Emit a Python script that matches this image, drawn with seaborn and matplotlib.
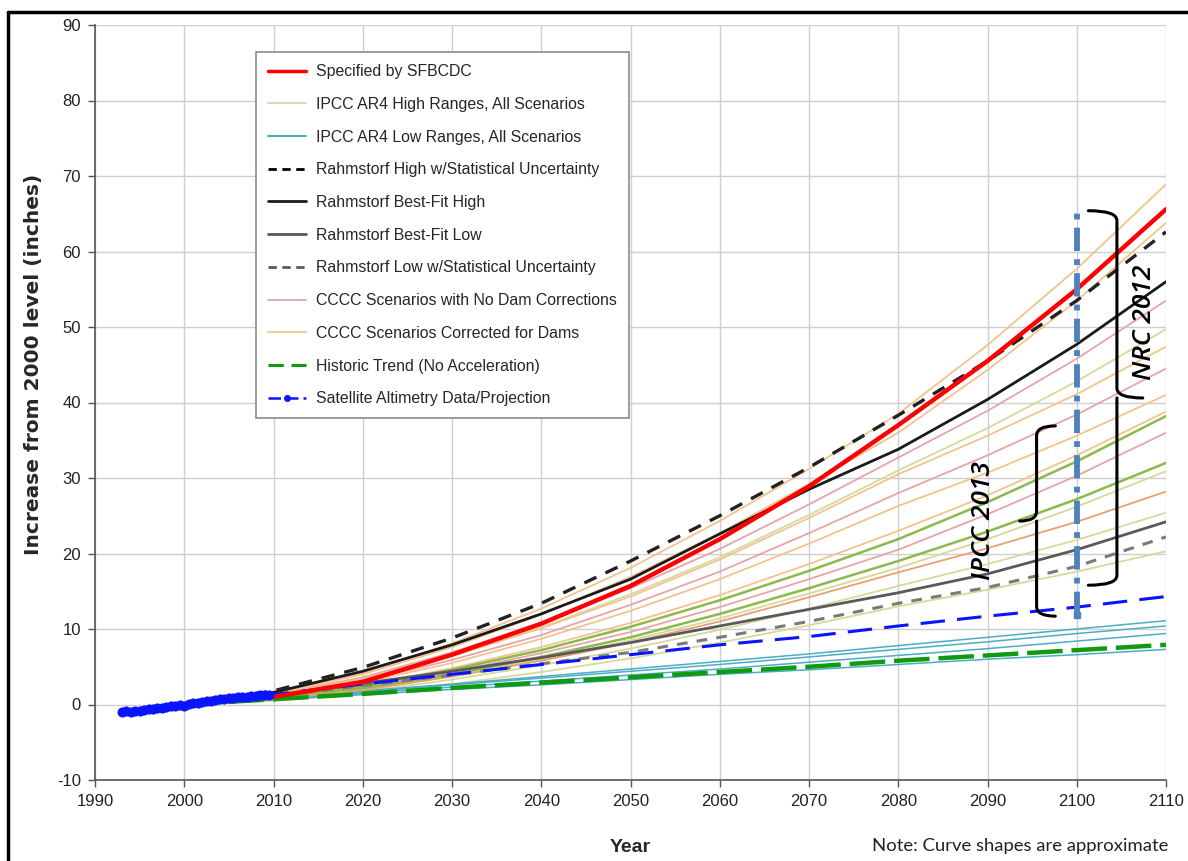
import numpy as np
import matplotlib
matplotlib.use("Agg")
import matplotlib.pyplot as plt
from matplotlib.lines import Line2D
from matplotlib.path import Path
from matplotlib.patches import PathPatch
import seaborn as sns

# ---------------- data ----------------
years = [2000, 2010, 2020, 2030, 2040, 2050, 2060, 2070, 2080, 2090, 2100, 2110]

sfbcdc          = [0, 1.0, 3.0, 6.6, 10.7, 15.7, 21.9, 28.9, 37.0, 45.5, 55.0, 65.6]
rahm_high_unc   = [0, 1.8, 4.9, 8.8, 13.4, 19.0, 25.0, 31.4, 38.3, 45.5, 53.5, 62.6]
rahm_best_high  = [0, 1.6, 4.4, 7.9, 12.0, 16.6, 22.6, 28.5, 33.8, 40.4, 47.7, 56.0]
rahm_best_low   = [0, 1.2, 2.8, 4.4, 6.2, 8.2, 10.4, 12.6, 14.8, 17.3, 20.5, 24.2]
rahm_low_unc    = [0, 1.1, 2.5, 3.9, 5.4, 6.9, 8.9, 11.0, 13.4, 15.5, 18.3, 22.2]
historic_trend  = [0, 0.7, 1.4, 2.2, 2.9, 3.6, 4.3, 5.0, 5.8, 6.5, 7.2, 7.9]

sat_proj_years  = [2009, 2020, 2030, 2040, 2050, 2060, 2070, 2080, 2090, 2100, 2110]
sat_projection  = [1.2, 2.7, 4.0, 5.3, 6.6, 7.9, 9.0, 10.4, 11.7, 12.9, 14.3]

sat_years = [1993.0, 1993.5, 1994.0, 1994.5, 1995.0, 1995.5, 1996.0, 1996.5, 1997.0,
             1997.5, 1998.0, 1998.5, 1999.0, 1999.5, 2000.0, 2000.5, 2001.0, 2001.5,
             2002.0, 2002.5, 2003.0, 2003.5, 2004.0, 2004.5, 2005.0, 2005.5, 2006.0,
             2006.5, 2007.0, 2007.5, 2008.0, 2008.5, 2009.0, 2009.5]
sat_data = [-1.0, -0.9, -0.95, -0.8, -0.85, -0.7, -0.6, -0.55, -0.45, -0.5, -0.3, -0.2,
            -0.15, -0.1, -0.15, 0.05, 0.15, 0.25, 0.3, 0.45, 0.5, 0.55, 0.7, 0.75, 0.8,
            0.9, 0.95, 1.0, 1.05, 1.15, 1.1, 1.2, 1.25, 1.3]

ipcc_low_1 = [0, 0.9, 1.8, 2.7, 3.7, 4.7, 5.7, 6.7, 7.8, 8.9, 10.0, 11.1]
ipcc_low_2 = [0, 0.8, 1.7, 2.6, 3.5, 4.4, 5.3, 6.3, 7.3, 8.3, 9.4, 10.4]
ipcc_low_3 = [0, 0.7, 1.5, 2.3, 3.1, 3.9, 4.7, 5.6, 6.5, 7.4, 8.4, 9.4]
ipcc_low_4 = [0, 0.65, 1.3, 2.0, 2.6, 3.3, 4.0, 4.6, 5.3, 6.0, 6.6, 7.3]

ipcc_high_1 = [0, 1.2, 3.4, 6.5, 10.2, 14.6, 19.5, 25.1, 31.0, 36.6, 42.8, 49.7]
ipcc_high_2 = [0, 0.7, 2.0, 3.8, 6.0, 8.5, 11.4, 14.7, 18.1, 21.9, 26.2, 30.9]
ipcc_high_3 = [0, 0.6, 1.7, 3.3, 5.2, 7.4, 9.9, 12.7, 15.7, 18.6, 21.8, 25.4]
ipcc_high_4 = [0, 0.5, 1.4, 2.7, 4.3, 6.1, 8.2, 10.5, 13.0, 15.2, 17.6, 20.3]

cccc_nodam_1 = [0, 1.3, 3.6, 6.9, 10.8, 15.4, 20.6, 26.5, 32.7, 38.9, 45.8, 53.5]
cccc_nodam_2 = [0, 1.1, 3.1, 5.9, 9.2, 13.2, 17.6, 22.7, 28.0, 33.0, 38.4, 44.5]
cccc_nodam_3 = [0, 0.8, 2.3, 4.3, 6.8, 9.6, 12.9, 16.6, 20.5, 25.2, 30.3, 36.0]

cccc_dams_1 = [0, 1.5, 4.2, 8.1, 12.7, 18.1, 24.3, 31.2, 38.5, 47.6, 57.7, 68.9]
cccc_dams_2 = [0, 1.4, 4.0, 7.6, 11.9, 16.9, 22.7, 29.2, 36.0, 44.3, 53.5, 63.8]
cccc_dams_3 = [0, 1.2, 3.4, 6.4, 10.1, 14.3, 19.2, 24.7, 30.5, 35.6, 41.1, 47.4]
cccc_dams_4 = [0, 1.1, 2.9, 5.5, 8.7, 12.4, 16.6, 21.3, 26.3, 30.7, 35.6, 41.0]
cccc_dams_5 = [0, 0.9, 2.5, 4.8, 7.6, 10.8, 14.5, 18.6, 23.0, 27.7, 33.0, 38.8]

green_1 = [0, 0.9, 2.4, 4.6, 7.2, 10.3, 13.8, 17.7, 21.9, 26.8, 32.2, 38.2]
green_2 = [0, 0.8, 2.1, 4.0, 6.3, 8.9, 12.0, 15.4, 19.0, 22.9, 27.2, 32.0]
salmon_1 = [0, 0.7, 1.9, 3.7, 5.8, 8.2, 11.0, 14.2, 17.5, 20.7, 24.2, 28.2]

nrc2012_range = (15.8, 65.4)
ipcc2013_range = (11.7, 36.9)
marker_year = 2100
marker_range = (11.9, 65.6)

legend_labels = ["Specified by SFBCDC", "IPCC AR4 High Ranges, All Scenarios",
                 "IPCC AR4 Low Ranges, All Scenarios",
                 "Rahmstorf High w/Statistical Uncertainty", "Rahmstorf Best-Fit High",
                 "Rahmstorf Best-Fit Low", "Rahmstorf Low w/Statistical Uncertainty",
                 "CCCC Scenarios with No Dam Corrections", "CCCC Scenarios Corrected for Dams",
                 "Historic Trend (No Acceleration)", "Satellite Altimetry Data/Projection"]

# ---------------- style ----------------
sns.set_theme(style="whitegrid")
plt.rcParams['font.family'] = ['Liberation Sans', 'DejaVu Sans']
plt.rcParams['axes.unicode_minus'] = False

C_RED = "#FF0000"
C_IPCC_HIGH = "#D5DA9A"
C_IPCC_LOW = "#4BACC6"
C_PINK = "#E6A5A8"
C_TAN = "#F2C48C"
C_GREEN = "#8DB84A"
C_SALMON = "#E8A070"
C_HIST = "#109A10"
C_SAT = "#0A14FF"

fig = plt.figure(figsize=(11.88, 8.61), dpi=100)
ax = fig.add_axes([95 / 1188, 1 - 780 / 861, (1166 - 95) / 1188, (780 - 25) / 861])


def line(yv, color, lw, ls="-", z=2, x=years):
    sns.lineplot(x=x, y=yv, ax=ax, color=color, linewidth=lw, linestyle=ls,
                 zorder=z, legend=False)


# fan
for s in [ipcc_high_1, ipcc_high_2, ipcc_high_3, ipcc_high_4]:
    line(s, C_IPCC_HIGH, 1.3, z=2)
for s in [cccc_nodam_1, cccc_nodam_2, cccc_nodam_3]:
    line(s, C_PINK, 1.3, z=2)
for s in [cccc_dams_1, cccc_dams_2, cccc_dams_3, cccc_dams_4, cccc_dams_5]:
    line(s, C_TAN, 1.3, z=2)
for s in [green_1, green_2]:
    line(s, C_GREEN, 1.8, z=2.1)
line(salmon_1, C_SALMON, 1.3, z=2.1)
for s in [ipcc_low_1, ipcc_low_2, ipcc_low_3, ipcc_low_4]:
    line(s, C_IPCC_LOW, 1.1, z=2)

line(historic_trend, C_HIST, 3.2, ls=(0, (8, 2)), z=3)
line(rahm_low_unc, "#7a7a7a", 2.2, ls=(0, (3.5, 3)), z=3)
line(rahm_best_low, "#595959", 2.0, z=3)
line(rahm_best_high, "#1a1a1a", 2.0, z=3.2)
line(rahm_high_unc, "#222222", 2.4, ls=(0, (4, 3)), z=3.3)
line(sat_projection, C_SAT, 2.2, ls=(0, (8, 4)), z=3.4, x=sat_proj_years)
line(sfbcdc, C_RED, 3.2, z=3.5)

sns.scatterplot(x=sat_years, y=sat_data, ax=ax, color=C_SAT, s=45,
                edgecolor=C_SAT, linewidth=0.5, zorder=4, legend=False)

# vertical marker at 2100
ax.plot([marker_year, marker_year], list(marker_range), color="#4F81BD", lw=4.2,
        linestyle=(0, (4, 1.4, 1, 1.4)), zorder=5, solid_capstyle="butt")
ax.plot([marker_year], [marker_range[0]], marker="s", ms=4, color="#4F81BD", zorder=5)


def brace(xv, xend, xtip, y0, y1, ry):
    ym = (y0 + y1) / 2
    verts = [(xend, y1), (xv, y1), (xv, y1 - ry),
             (xv, ym + ry), (xv, ym), (xtip, ym),
             (xv, ym), (xv, ym - ry),
             (xv, y0 + ry), (xv, y0), (xend, y0)]
    codes = [Path.MOVETO, Path.CURVE3, Path.CURVE3,
             Path.LINETO, Path.CURVE3, Path.CURVE3,
             Path.MOVETO, Path.CURVE3,
             Path.LINETO, Path.CURVE3, Path.CURVE3]
    p = Path(verts, codes)
    ax.add_patch(PathPatch(p, fill=False, lw=2.2, edgecolor="black", zorder=6,
                           capstyle="round", joinstyle="round"))


brace(2104.5, 2101.3, 2107.4, nrc2012_range[0], nrc2012_range[1], 1.3)
brace(2095.5, 2097.6, 2093.6, ipcc2013_range[0], ipcc2013_range[1], 1.3)

ax.text(2107.6, 50.6, "NRC 2012", rotation=90, ha="center", va="center",
        fontsize=19, style="italic", fontweight="semibold",
        family=["Open Sans", "DejaVu Sans"], color="black", zorder=7)
ax.text(2089.6, 24.4, "IPCC 2013", rotation=90, ha="center", va="center",
        fontsize=19, style="italic", fontweight="semibold",
        family=["Open Sans", "DejaVu Sans"], color="black", zorder=7)

# axes
ax.set_xlim(1990, 2110)
ax.set_ylim(-10, 90)
ax.set_xticks(range(1990, 2111, 10))
ax.set_yticks(range(-10, 91, 10))
ax.grid(True, color="#cfcfcf", lw=1.0)
for side in ["top", "right"]:
    ax.spines[side].set_visible(False)
for side in ["left", "bottom"]:
    ax.spines[side].set_color("#555555")
    ax.spines[side].set_linewidth(1.2)
ax.tick_params(axis="both", which="major", length=5, width=1, color="#555555",
               labelsize=12, labelcolor="#222222", pad=5, direction="out",
               left=True, bottom=True)
ax.set_xlabel("Year", fontsize=14, fontweight="bold", labelpad=22)
ax.set_ylabel("Increase from 2000 level (inches)", fontsize=14.5, fontweight="bold",
              family=["DejaVu Sans"], labelpad=14)
ax.yaxis.set_label_coords(-0.049, 0.55)

# legend
handles = [
    Line2D([], [], color=C_RED, lw=2.5),
    Line2D([], [], color=C_IPCC_HIGH, lw=1.3),
    Line2D([], [], color=C_IPCC_LOW, lw=1.5),
    Line2D([], [], color="black", lw=2, linestyle=(0, (3, 2))),
    Line2D([], [], color="#1a1a1a", lw=2),
    Line2D([], [], color="#595959", lw=2),
    Line2D([], [], color="#595959", lw=2, linestyle=(0, (3, 2))),
    Line2D([], [], color=C_PINK, lw=1.3),
    Line2D([], [], color=C_TAN, lw=1.3),
    Line2D([], [], color=C_HIST, lw=2.2, linestyle=(0, (5, 2.5))),
    Line2D([], [], color=C_SAT, lw=1.8, linestyle=(0, (5, 2)), marker="o", ms=4,
           markevery=[1]),
]
for h in handles:
    h.set_xdata([0, 0.5, 1])
    h.set_ydata([0, 0, 0])
leg = ax.legend(handles, legend_labels, loc="upper left",
                bbox_to_anchor=(0.150, 0.964), fontsize=11.4, frameon=True,
                fancybox=False, framealpha=1, edgecolor="#8a8a8a",
                labelspacing=1.12, handlelength=2.45, handletextpad=0.6,
                borderpad=0.75, borderaxespad=0)
leg.get_frame().set_linewidth(1.2)
leg.set_zorder(8)

fig.text(1168 / 1188, 1 - 846 / 861, "Note: Curve shapes are approximate",
         ha="right", va="center", fontsize=13.3, family=["Lato", "DejaVu Sans"],
         color="#222222")

# figure border
fig.add_artist(Line2D([8 / 1188, 1.0], [1 - 12 / 861, 1 - 12 / 861],
                      transform=fig.transFigure, color="black", lw=2.5))
fig.add_artist(Line2D([8 / 1188, 8 / 1188], [0, 1 - 12 / 861],
                      transform=fig.transFigure, color="black", lw=2.5))

fig.savefig("out.png", dpi=100)
